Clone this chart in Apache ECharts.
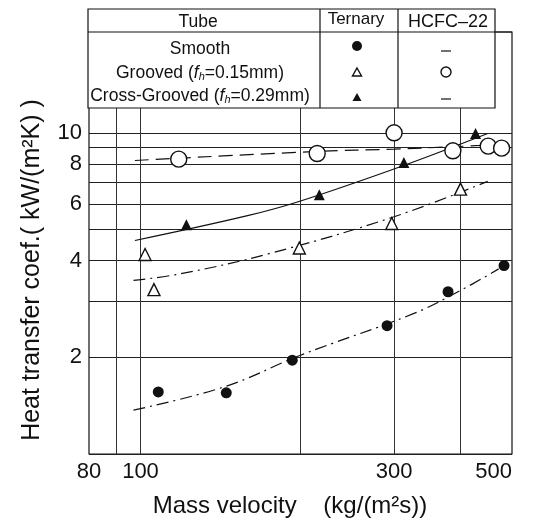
<!DOCTYPE html>
<html>
<head>
<meta charset="utf-8">
<script src="https://cdn.jsdelivr.net/npm/echarts@6/dist/echarts.min.js"></script>
<style>
  html, body { margin: 0; background: #fff; }
  #chart { width: 535px; height: 525px; }
</style>
</head>
<body>
<div id="chart"></div>
<script>
// axis ticks / grid values
var xTickLabels = [80, 100, 300, 500];
var xGridValues = [90, 100, 200, 300, 400];
var yTickLabels = [2, 4, 6, 8, 10];
var yGridValues = [1, 2, 3, 4, 5, 6, 7, 8, 9, 10];

// measured points (mass velocity, heat transfer coef.)
var smoothTernary = [[108, 1.56], [145, 1.55], [193, 1.96], [291, 2.51], [379, 3.2], [483, 3.86]];
var groovedTernary = [[102, 4.18], [106, 3.25], [199, 4.38], [297, 5.22], [400, 6.68]];
var crossTernary = [[122, 5.17], [217, 6.41], [313, 8.09], [427, 9.95]];
var groovedHcfc = [[118, 8.28], [215, 8.62], [300, 10.0], [387, 8.79], [451, 9.09], [478, 8.96]];

// fitted curves
var smoothFit = [[97, 1.37], [144, 1.62], [200, 2.03], [327, 2.74], [400, 3.23], [472, 3.77]];
var groovedFit = [[97, 3.47], [119, 3.64], [174, 4.2], [300, 5.48], [450, 7.06]];
var crossFit = [[97.6, 4.62], [159, 5.52], [198, 6.1], [310, 7.87], [450, 9.95]];
var hcfcFit = [[97.6, 8.2], [215, 8.75], [300, 8.9], [387, 9.05], [478, 9.2]];

var font = '"Liberation Sans", Arial, Helvetica, sans-serif';
var ink = '#111';

var chart = echarts.init(document.getElementById('chart'));

// the little table that sits on top of the plot
function tableGraphics() {
  var t = { fontFamily: font, fontSize: 17.5, fill: ink, align: 'center', verticalAlign: 'middle' };
  function txt(x, y, s, extra) {
    return { type: 'text', x: x, y: y, z: 101, style: Object.assign({}, t, { text: s }, extra || {}) };
  }
  function sub(x, y, head, num) {
    return txt(x, y, '{n|' + head + ' (}{i|f}{s|h}{n|=' + num + 'mm)}', {
      rich: {
        n: { fontFamily: font, fontSize: 17.5, fill: ink },
        i: { fontFamily: font, fontSize: 17.5, fontStyle: 'italic', fill: ink },
        s: { fontFamily: font, fontSize: 11, fontStyle: 'italic', fill: ink, padding: [8, 0, 0, 0] }
      }
    });
  }
  function line(x1, y1, x2, y2) {
    return { type: 'line', z: 101, shape: { x1: x1, y1: y1, x2: x2, y2: y2 }, style: { stroke: ink, lineWidth: 1.2 } };
  }
  return [
    { type: 'rect', z: 100, shape: { x: 88, y: 9, width: 407, height: 99 }, style: { fill: '#fff', stroke: ink, lineWidth: 1.2 } },
    line(88, 32, 512, 32),
    line(320, 9, 320, 108),
    line(398, 9, 398, 108),
    txt(198, 22, 'Tube'),
    txt(356, 19, 'Ternary', { fontSize: 17 }),
    txt(448, 22, 'HCFC\u201322', { fontSize: 18 }),
    txt(200, 49, 'Smooth'),
    sub(200, 73, 'Grooved', '0.15'),
    sub(200, 96, 'Cross-Grooved', '0.29'),
    { type: 'circle', z: 101, shape: { cx: 357, cy: 46, r: 5 }, style: { fill: ink } },
    { type: 'polygon', z: 101, shape: { points: [[357, 68], [361.5, 76], [352.5, 76]] }, style: { fill: '#fff', stroke: ink, lineWidth: 1.4 } },
    { type: 'polygon', z: 101, shape: { points: [[357, 93], [361.5, 101], [352.5, 101]] }, style: { fill: ink } },
    line(441, 51, 451, 51),
    { type: 'circle', z: 101, shape: { cx: 446, cy: 72, r: 5 }, style: { fill: '#fff', stroke: ink, lineWidth: 1.4 } },
    line(441, 99, 451, 99),
    { type: 'text', x: 32, y: 270, rotation: Math.PI / 2, style: { text: 'Heat transfer coef.( kW/(m\u00b2K) )', fontFamily: font, fontSize: 25, fill: ink, align: 'center', verticalAlign: 'middle' } },
    { type: 'text', x: 290, y: 506, style: { text: 'Mass velocity    (kg/(m\u00b2s))', fontFamily: font, fontSize: 24, fill: ink, align: 'center', verticalAlign: 'middle' } }
  ];
}

function scatter(name, data, symbol, size, open) {
  return {
    name: name, type: 'scatter', data: data, symbol: symbol, symbolSize: size, z: 5,
    itemStyle: open ? { color: '#fff', borderColor: ink, borderWidth: 1.4, opacity: 1 } : { color: ink, opacity: 1 }
  };
}
function fit(name, data, dash) {
  return {
    name: name, type: 'line', data: data, smooth: 0.4, showSymbol: false, z: 4,
    lineStyle: { color: ink, width: 1.2, type: dash }
  };
}

var option = {
  backgroundColor: '#fff',
  animation: false,
  grid: { left: 89, right: 23, top: 32, bottom: 71, show: true, borderColor: ink, borderWidth: 1.2 },
  xAxis: {
    type: 'log', logBase: 10, min: 80, max: 500,
    axisLine: { show: false },
    axisTick: { show: false, customValues: xGridValues },
    axisLabel: { customValues: xTickLabels, fontFamily: font, fontSize: 22, color: ink, margin: 7, alignMaxLabel: 'right' },
    splitLine: { show: true, lineStyle: { color: '#333', width: 1 } }
  },
  yAxis: {
    type: 'log', logBase: 10, min: 1, max: 20.6,
    axisLine: { show: false },
    axisTick: { show: false, customValues: yGridValues },
    axisLabel: { customValues: yTickLabels, fontFamily: font, fontSize: 22, color: ink, margin: 7 },
    splitLine: { show: true, lineStyle: { color: '#222', width: 1.2 } }
  },
  graphic: tableGraphics(),
  series: [
    fit('smooth fit', smoothFit, [12, 5, 2, 5]),
    fit('grooved fit', groovedFit, [12, 5, 2, 5]),
    fit('cross fit', crossFit, 'solid'),
    fit('hcfc fit', hcfcFit, [14, 7]),
    scatter('Smooth', smoothTernary, 'circle', 11, false),
    scatter('Grooved', groovedTernary, 'triangle', 12, true),
    scatter('Cross-Grooved', crossTernary, 'triangle', 11, false),
    scatter('Grooved HCFC-22', groovedHcfc, 'circle', 16, true)
  ]
};

chart.setOption(option);
</script>
</body>
</html>
